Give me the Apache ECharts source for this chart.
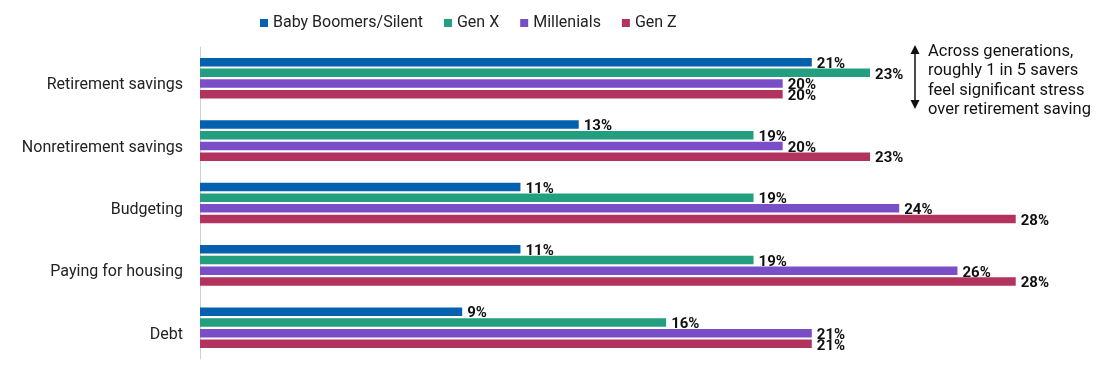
<!DOCTYPE html>
<html>
<head>
<meta charset="utf-8">
<script src="https://cdn.jsdelivr.net/npm/echarts@6/dist/echarts.min.js"></script>
<style>html,body{margin:0;padding:0;background:#fff;}#c{width:1100px;height:387px;}</style>
</head>
<body>
<div id="c"></div>
<script>
const categories = ['Retirement savings', 'Nonretirement savings', 'Budgeting', 'Paying for housing', 'Debt'];
const seriesNames = ['Baby Boomers/Silent', 'Gen X', 'Millenials', 'Gen Z'];
const boomers = [21, 13, 11, 11, 9];
const genX = [23, 19, 19, 19, 16];
const millenials = [20, 20, 24, 26, 21];
const genZ = [20, 23, 28, 28, 21];
const colors = ['#0560ad', '#239e7e', '#7a4ec7', '#b3335f'];
const annotationLines = ['Across generations,', 'roughly 1 in 5 savers', 'feel significant stress', 'over retirement saving'];

const FONT = 'Roboto';
const values = [boomers, genX, millenials, genZ];

const chart = echarts.init(document.getElementById('c'));
chart.setOption({
  animation: false,
  textStyle: { fontFamily: FONT },
  color: colors,
  legend: {
    top: 10,
    left: 255,
    itemWidth: 8,
    itemHeight: 8,
    itemGap: 21,
    icon: 'rect',
    textStyle: { fontSize: 16, color: '#222', fontFamily: FONT },
    data: seriesNames
  },
  grid: { left: 200, right: 26, top: 47, bottom: 28, containLabel: false },
  xAxis: {
    type: 'value', min: 0, max: 30,
    show: false
  },
  yAxis: {
    type: 'category',
    inverse: true,
    data: categories,
    axisLine: { show: true, lineStyle: { color: '#d0d0d0', width: 1 } },
    axisTick: { show: false },
    axisLabel: { fontSize: 16, color: '#222', margin: 17, fontFamily: FONT, verticalAlign: 'top', lineHeight: 14 }
  },
  series: values.map((v, i) => ({
    name: seriesNames[i],
    type: 'bar',
    data: v,
    barWidth: 8.5,
    barGap: '26%',
    itemStyle: { color: colors[i] },
    label: {
      show: true, position: 'right', distance: 5,
      formatter: '{c}%',
      fontSize: 15, fontWeight: 'bold', color: '#111', fontFamily: FONT,
      offset: [0, 2]
    }
  })),
  graphic: [
    {
      type: 'line', shape: { x1: 915, y1: 52, x2: 915, y2: 102 },
      style: { stroke: '#111', lineWidth: 1.5 }
    },
    {
      type: 'polygon', shape: { points: [[915, 45], [910.5, 54], [919.5, 54]] },
      style: { fill: '#111' }
    },
    {
      type: 'polygon', shape: { points: [[915, 109], [910.5, 100], [919.5, 100]] },
      style: { fill: '#111' }
    },
    {
      type: 'text', left: 928, top: 42,
      style: {
        text: annotationLines.join('\n'),
        fontSize: 16.5, lineHeight: 19.5, fill: '#111', fontFamily: FONT
      }
    }
  ]
});
</script>
</body>
</html>
